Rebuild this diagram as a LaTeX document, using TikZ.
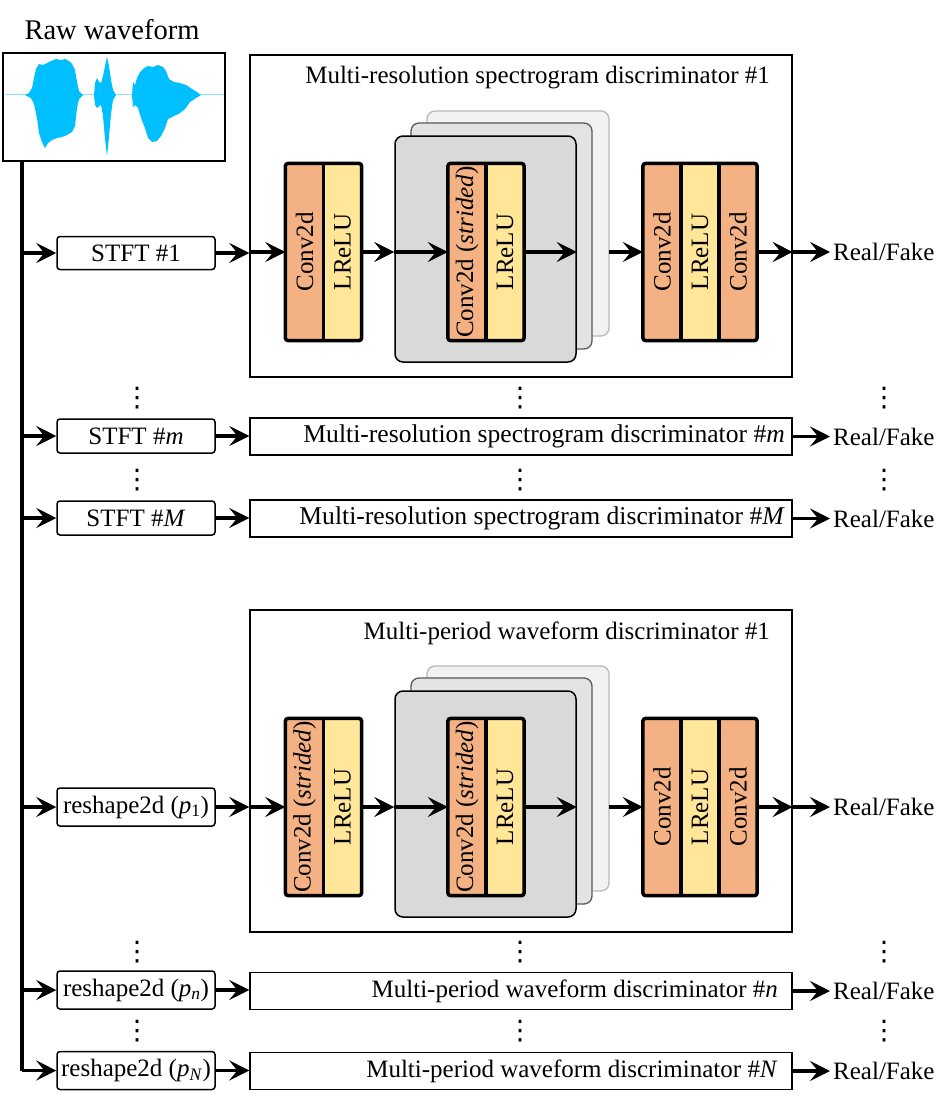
\documentclass[tikz,border=0pt]{standalone}
\usepackage{fontspec}
\usepackage{graphicx}
\setmainfont{Liberation Serif}
\newfontfamily\symfont{DejaVu Sans}
\usetikzlibrary{arrows.meta,calc}
\definecolor{convc}{HTML}{F4B183}
\definecolor{reluc}{HTML}{FFE699}
\definecolor{wavec}{HTML}{00BFFF}
\tikzset{
  arr/.style={line width=3.2pt,-{Stealth[length=20pt,width=20pt,inset=8pt]}},
  smallbox/.style={draw,line width=1.5pt,rounded corners=3pt,minimum width=158pt,inner sep=0pt},
  rowbox/.style={draw,line width=1.4pt,minimum width=542pt,minimum height=37pt,inner sep=0pt},
  bigbox/.style={draw,line width=1.4pt,minimum width=542pt,minimum height=322pt,inner sep=0pt},
  wavebox/.style={draw,line width=1.5pt,fill=white,minimum width=222pt,minimum height=108pt,inner sep=0pt},
  cell/.style={minimum width=38pt,minimum height=177pt,inner sep=0pt},
  blk/.style={line width=3.5pt,rounded corners=3pt},
  blkdiv/.style={line width=3.5pt},
  stackback/.style={draw=black!28,fill=black!5,line width=1.3pt,rounded corners=8pt},
  stackmid/.style={draw=black!65,fill=black!11,line width=1.3pt,rounded corners=8pt},
  stackfront/.style={draw=black,fill=black!15,line width=1.5pt,rounded corners=8pt,minimum width=181pt,minimum height=226pt,inner sep=0pt},
  rf/.style={anchor=west,inner sep=3pt},
  dots/.style={inner sep=0pt,font=\symfont\fontsize{27}{27}\selectfont},
  rowtext/.style={anchor=east,inner sep=0pt}
}
\newcommand\vdts{⋮}
\newcommand\mydisc[4]{%
  \node[bigbox] (#1box) at (521,#2-36) {};
  \node[anchor=east,inner sep=0pt] (#1title) at (770,#2-174) {#4};
  \draw[stackback] (427,#2-141) rectangle (609,#2+84);
  \draw[stackmid] (411,#2-129) rectangle (592,#2+97);
  \node[stackfront] (#1front) at (485.5,#2-3) {};
  \coordinate (#1out) at (609,#2);
  % first block
  \node[cell,fill=convc] (#1a) at (304.5,#2) {\rotatebox{90}{#3}};
  \node[cell,fill=reluc] (#1b) at (342.5,#2) {\rotatebox{90}{LReLU}};
  \draw[blk] (#1a.north west) rectangle (#1b.south east);
  \draw[blkdiv] (#1a.north east) -- (#1a.south east);
  % inner block
  \node[cell,fill=convc] (#1c) at (467,#2) {\rotatebox{90}{Conv2d (\textit{strided})}};
  \node[cell,fill=reluc] (#1d) at (505,#2) {\rotatebox{90}{LReLU}};
  \draw[blk] (#1c.north west) rectangle (#1d.south east);
  \draw[blkdiv] (#1c.north east) -- (#1c.south east);
  % last block
  \node[cell,fill=convc] (#1e) at (662,#2) {\rotatebox{90}{Conv2d}};
  \node[cell,fill=reluc] (#1f) at (700,#2) {\rotatebox{90}{LReLU}};
  \node[cell,fill=convc] (#1g) at (738,#2) {\rotatebox{90}{Conv2d}};
  \draw[blk] (#1e.north west) rectangle (#1g.south east);
  \draw[blkdiv] (#1e.north east) -- (#1e.south east);
  \draw[blkdiv] (#1f.north east) -- (#1f.south east);
  % arrows
  \draw[arr] (#1box.west |- #1a.west) -- (#1a.west);
  \draw[arr] (#1b.east) -- (#1b.east -| #1front.west);
  \draw[arr] (#1front.west |- #1c.west) -- (#1c.west);
  \draw[arr] (#1d.east) -- (#1d.east -| #1front.east);
  \draw[arr] (#1out) -- (#1e.west);
  \draw[arr] (#1g.east) -- (#1g.east -| #1box.east);
}
\begin{document}
\begin{tikzpicture}[x=1pt,y=-1pt,font=\fontsize{25}{29}\selectfont]
\useasboundingbox (0,0) rectangle (949,1100);

% raw waveform
\node[font=\fontsize{28.5}{34}\selectfont] (rawlbl) at (112,30) {Raw waveform};
\node[wavebox] (wave) at (114,107) {};
\draw[wavec!45,line width=0.9pt] (4.5,94) -- (223.5,94);
\fill[wavec] (25,95) -- (29,93) -- (32,88) -- (34,78) -- (36,69) -- (39,64) -- (43,65) -- (47,63) -- (51,61) -- (56,59) -- (61,60) -- (65,59) -- (69,61) -- (72,64) -- (75,70) -- (77,82) -- (79,91) -- (83,95) -- (79,99) -- (77,108) -- (75,126) -- (72,132) -- (67,135) -- (62,137) -- (57,138) -- (52,140) -- (48,143) -- (45,148) -- (42,142) -- (39,133) -- (37,118) -- (34,104) -- (31,98) -- cycle;
\fill[wavec] (94,95) -- (95,83) -- (97,78) -- (99,82) -- (101,83) -- (103,76) -- (105,66) -- (107,57) -- (109,66) -- (111,80) -- (113,90) -- (116,95) -- (113,100) -- (111,114) -- (109,137) -- (107,156) -- (105,139) -- (103,116) -- (101,105) -- (99,106) -- (97,108) -- (95,105) -- cycle;
\fill[wavec] (132,95) -- (133,82) -- (135,85) -- (137,78) -- (140,72) -- (144,68) -- (148,66) -- (153,67) -- (158,65) -- (163,67) -- (166,71) -- (169,79) -- (174,82) -- (180,83) -- (186,85) -- (192,89) -- (197,92) -- (201,95) -- (196,98) -- (190,102) -- (185,109) -- (180,113) -- (174,116) -- (168,119) -- (165,128) -- (161,136) -- (157,141) -- (152,142) -- (148,138) -- (145,128) -- (141,118) -- (138,108) -- (135,105) -- (133,107) -- cycle;
\coordinate (trunk) at (22,161);

% discriminators with detail
\mydisc{s}{252}{Conv2d}{Multi-resolution spectrogram discriminator \#1}
\mydisc{w}{807}{Conv2d (\textit{strided})}{Multi-period waveform discriminator \#1}

% left boxes
\node[smallbox,minimum height=33pt] (stft1) at (136,253) {STFT \#1};
\node[smallbox,minimum height=34pt] (stftm) at (136,436) {STFT \#\textit{m}};
\node[smallbox,minimum height=34pt] (stftM) at (136,518) {STFT \#\textit{M}};
\node[smallbox,minimum height=38pt] (rs1) at (136,807) {reshape2d (\textit{p}\textsubscript{1})};
\node[smallbox,minimum height=38pt] (rsn) at (136,990) {reshape2d (\textit{p}\textsubscript{\textit{n}})};
\node[smallbox,minimum height=38pt] (rsN) at (136,1070.5) {reshape2d (\textit{p}\textsubscript{\textit{N}})};

% row discriminators
\node[rowbox] (discm) at (521,436.5) {};
\node[rowtext,font=\fontsize{25.6}{29}\selectfont] (discmt) at (785,436.5) {Multi-resolution spectrogram discriminator \#\textit{m}};
\node[rowbox] (discM) at (521,518.5) {};
\node[rowtext,font=\fontsize{25.6}{29}\selectfont] (discMt) at (785,518.5) {Multi-resolution spectrogram discriminator \#\textit{M}};
\node[rowbox] (wdiscn) at (521,991) {};
\node[rowtext] (wdiscnt) at (778,991) {Multi-period waveform discriminator \#\textit{n}};
\node[rowbox] (wdiscN) at (521,1071) {};
\node[rowtext] (wdiscNt) at (778,1071) {Multi-period waveform discriminator \#\textit{N}};

% outputs
\node[rf] (rf1) at (830,252) {Real/Fake};
\node[rf] (rf2) at (830,436.5) {Real/Fake};
\node[rf] (rf3) at (830,518.5) {Real/Fake};
\node[rf] (rf4) at (830,807) {Real/Fake};
\node[rf] (rf5) at (830,991) {Real/Fake};
\node[rf] (rf6) at (830,1071) {Real/Fake};

% trunk and branches
\draw[line width=3.6pt] (trunk) -- (trunk |- rsN.west);
\draw[arr] (trunk |- rsN.west) -- (rsN.west);
\draw[arr] (trunk |- stft1.west) -- (stft1.west);
\draw[arr] (trunk |- stftm.west) -- (stftm.west);
\draw[arr] (trunk |- stftM.west) -- (stftM.west);
\draw[arr] (trunk |- rs1.west) -- (rs1.west);
\draw[arr] (trunk |- rsn.west) -- (rsn.west);

% to discriminators
\draw[arr] (stft1.east) -- (stft1.east -| sbox.west);
\draw[arr] (stftm.east) -- (stftm.east -| discm.west);
\draw[arr] (stftM.east) -- (stftM.east -| discM.west);
\draw[arr] (rs1.east) -- (rs1.east -| wbox.west);
\draw[arr] (rsn.east) -- (rsn.east -| wdiscn.west);
\draw[arr] (rsN.east) -- (rsN.east -| wdiscN.west);

% to outputs
\draw[arr] (sg.east -| sbox.east) -- (rf1.west);
\draw[arr] (discm.east) -- (rf2.west);
\draw[arr] (discM.east) -- (rf3.west);
\draw[arr] (wg.east -| wbox.east) -- (rf4.west);
\draw[arr] (wdiscn.east) -- (rf5.west);
\draw[arr] (wdiscN.east) -- (rf6.west);

% dots
\node[dots] (d1) at (137,398) {\vdts};
\node[dots] (d2) at (520,398) {\vdts};
\node[dots] (d3) at (884,398) {\vdts};
\node[dots] (d4) at (137,480) {\vdts};
\node[dots] (d5) at (520,480) {\vdts};
\node[dots] (d6) at (884,480) {\vdts};
\node[dots] (d7) at (137,952) {\vdts};
\node[dots] (d8) at (520,952) {\vdts};
\node[dots] (d9) at (884,952) {\vdts};
\node[dots] (d10) at (137,1031) {\vdts};
\node[dots] (d11) at (520,1031) {\vdts};
\node[dots] (d12) at (884,1031) {\vdts};
\end{tikzpicture}
\end{document}
